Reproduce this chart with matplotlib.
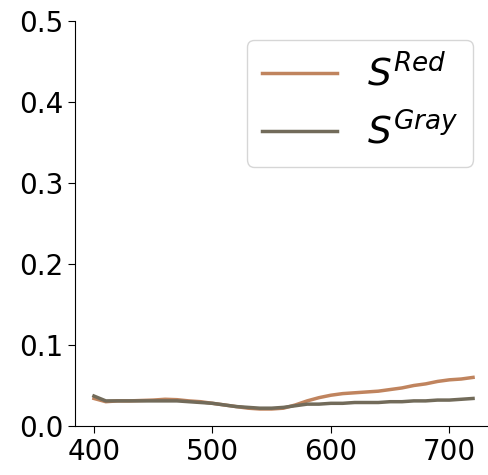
import numpy as np
import matplotlib
matplotlib.use('Agg')
import matplotlib.pyplot as plt

wavelength = np.arange(400, 721, 10)

s_red = [0.034, 0.030, 0.031, 0.031, 0.0315, 0.032, 0.033, 0.0325, 0.031, 0.030,
         0.028, 0.026, 0.024, 0.022, 0.021, 0.021, 0.022, 0.026, 0.031, 0.035,
         0.038, 0.040, 0.041, 0.042, 0.043, 0.045, 0.047, 0.050, 0.052, 0.055,
         0.057, 0.058, 0.060]

s_gray = [0.037, 0.031, 0.031, 0.031, 0.031, 0.031, 0.031, 0.031, 0.030, 0.029,
          0.028, 0.026, 0.024, 0.023, 0.022, 0.022, 0.023, 0.025, 0.027, 0.027,
          0.028, 0.028, 0.029, 0.029, 0.029, 0.030, 0.030, 0.031, 0.031, 0.032,
          0.032, 0.033, 0.034]

fig = plt.figure(figsize=(4.89, 4.75), dpi=100)
ax = fig.add_axes([75/489, 49/475, 417/489, 405/475])

ax.plot(wavelength, s_red, color='#c0845e', lw=2.5, label=r'$S^{Red}$')
ax.plot(wavelength, s_gray, color='#726b5a', lw=2.5, label=r'$S^{Gray}$')

ax.set_xlim(384, 736)
ax.set_ylim(0, 0.5)
ax.set_xticks([400, 500, 600, 700])
ax.set_yticks([0.0, 0.1, 0.2, 0.3, 0.4, 0.5])
ax.tick_params(labelsize=20, length=5)
ax.spines['top'].set_visible(False)
ax.spines['right'].set_visible(False)

ax.legend(loc='upper right', fontsize=27, borderaxespad=0.5)

fig.savefig('out.png', dpi=100)
